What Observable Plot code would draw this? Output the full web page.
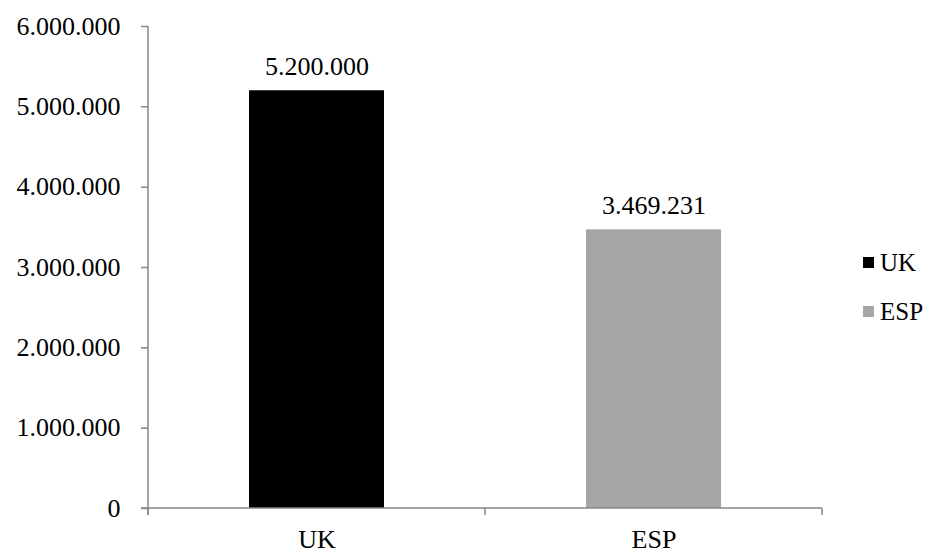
<!DOCTYPE html>
<html>
<head>
<meta charset="utf-8">
<script src="https://cdn.jsdelivr.net/npm/d3@7"></script>
<script src="https://cdn.jsdelivr.net/npm/@observablehq/plot@0.6"></script>
<style>
  html, body { margin: 0; padding: 0; background: #fff; }
  #wrap { position: relative; width: 929px; height: 556px; font-family: "Liberation Serif", serif; }
  #legend { position: absolute; left: 863px; top: 238px; font-size: 25px; color: #000; }
  #legend .item { display: flex; align-items: center; height: 49px; }
  #legend .sw { width: 11px; height: 11px; margin-right: 6px; }
</style>
</head>
<body>
<div id="wrap"></div>
<script>
const categories = ["UK", "ESP"];
const values = [5200000, 3469231];
const colors = ["#000000", "#a6a6a6"];
const yTicks = [0, 1000000, 2000000, 3000000, 4000000, 5000000, 6000000];

const data = categories.map((c, i) => ({cat: c, value: values[i], color: colors[i]}));
const fmt = d => d3.format(",")(d).replace(/,/g, ".");
const axisColor = "#868686";

const axisLines = (index, scales, values, dims) => {
  const g = d3.create("svg:g");
  const x0 = dims.marginLeft, x1 = dims.width - dims.marginRight;
  const y0 = dims.height - dims.marginBottom, y1 = dims.marginTop;
  g.append("line").attr("x1", x0).attr("x2", x0).attr("y1", y1).attr("y2", y0 + 7)
    .attr("stroke", axisColor).attr("stroke-width", 1.5);
  g.append("line").attr("x1", x0 - 7).attr("x2", x1).attr("y1", y0).attr("y2", y0)
    .attr("stroke", axisColor).attr("stroke-width", 1.5);
  const step = scales.x.step();
  const start = scales.x(categories[0]) - (step - scales.x.bandwidth()) / 2;
  for (let i = 0; i <= categories.length; i++) {
    const bx = start + i * step;
    g.append("line").attr("x1", bx).attr("x2", bx).attr("y1", y0).attr("y2", y0 + 7)
      .attr("stroke", axisColor).attr("stroke-width", 1.5);
  }
  return g.node();
};

const chart = Plot.plot({
  width: 929,
  height: 556,
  marginLeft: 148,
  marginRight: 107,
  marginTop: 26,
  marginBottom: 48,
  style: {fontFamily: "Liberation Serif, serif", fontSize: "26px", color: "#000", background: "#fff"},
  x: {domain: categories, paddingInner: 0.6, paddingOuter: 0.3, label: null},
  y: {domain: [0, 6000000], label: null},
  marks: [
    Plot.barY(data, {x: "cat", y: "value", fill: "color"}),
    Plot.text(data, {x: "cat", y: "value", text: d => fmt(d.value), dy: -16, lineAnchor: "bottom", fontSize: 26, fill: "#000"}),
    Plot.axisY({ticks: yTicks, tickFormat: fmt, tickSize: 7, tickPadding: 21, stroke: axisColor, strokeWidth: 1.5, fontSize: 26, fill: "#000", label: null}),
    Plot.axisX({tickSize: 0, tickPadding: 21, fontSize: 26, fill: "#000", label: null, lineAnchor: "top"}),
    axisLines
  ]
});

const wrap = document.getElementById("wrap");
wrap.appendChild(chart);
const legend = document.createElement("div");
legend.id = "legend";
categories.forEach((c, i) => {
  const it = document.createElement("div");
  it.className = "item";
  const sw = document.createElement("span");
  sw.className = "sw";
  sw.style.background = colors[i];
  const t = document.createElement("span");
  t.textContent = c;
  it.appendChild(sw); it.appendChild(t);
  legend.appendChild(it);
});
wrap.appendChild(legend);
</script>
</body>
</html>
